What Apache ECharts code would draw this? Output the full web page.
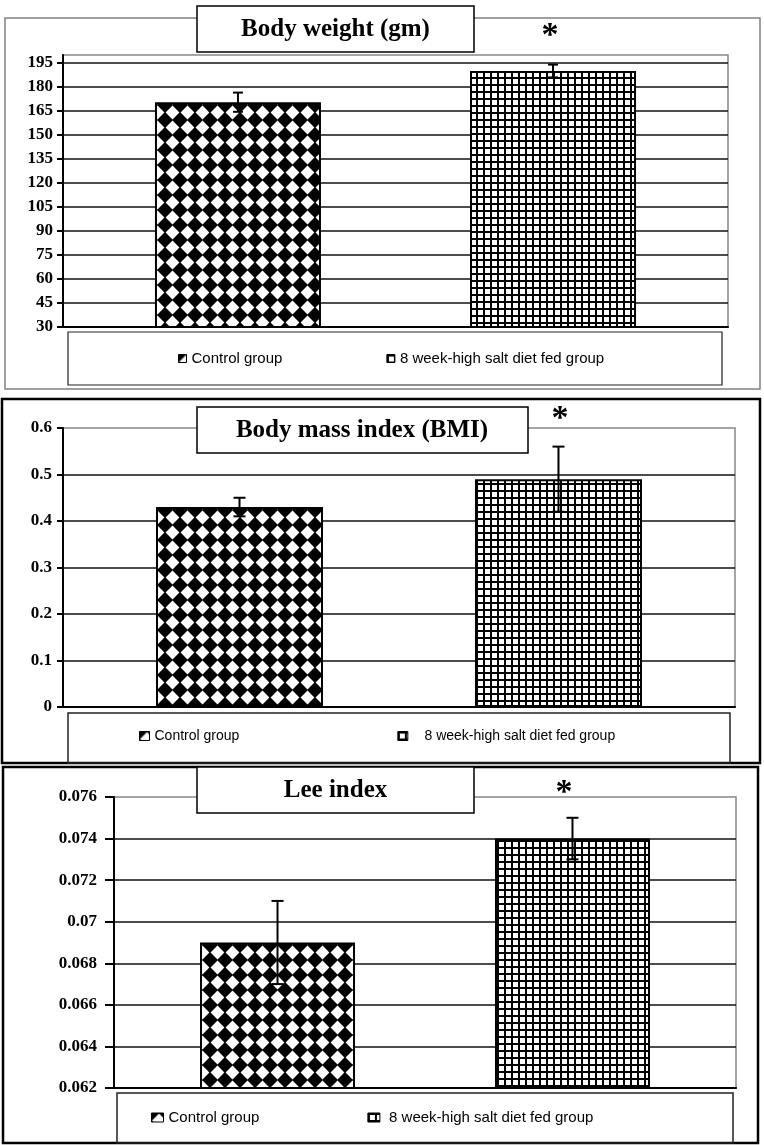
<!DOCTYPE html>
<html>
<head>
<meta charset="utf-8">
<script src="https://cdn.jsdelivr.net/npm/echarts@6/dist/echarts.min.js"></script>
<style>
html, body { margin: 0; padding: 0; background: #fff; }
#main { width: 764px; height: 1145px; }
</style>
</head>
<body>
<div id="main"></div>
<script>
// data
var groups = ['Control group', '8 week-high salt diet fed group'];
var bwMean = [170.5, 190];
var bwErr = [6, 4];
var bwTicks = [30, 45, 60, 75, 90, 105, 120, 135, 150, 165, 180, 195];
var bmiMean = [0.43, 0.49];
var bmiErr = [0.02, 0.07];
var leeMean = [0.069, 0.074];
var leeErr = [0.002, 0.001];

var myChart = echarts.init(document.getElementById('main'));

// fill patterns
function diamondTile() {
    var c = document.createElement('canvas');
    c.width = 15; c.height = 15;
    var g = c.getContext('2d');
    g.fillStyle = '#000';
    g.fillRect(0, 0, 15, 15);
    g.fillStyle = '#fff';
    g.beginPath();
    g.moveTo(7.5, 0.6); g.lineTo(14.4, 7.5); g.lineTo(7.5, 14.4); g.lineTo(0.6, 7.5);
    g.closePath();
    g.fill();
    return c;
}
function gridTile() {
    var c = document.createElement('canvas');
    c.width = 7; c.height = 7;
    var g = c.getContext('2d');
    g.fillStyle = '#fff';
    g.fillRect(0, 0, 7, 7);
    g.fillStyle = '#000';
    g.fillRect(0, 0, 7, 2);
    g.fillRect(0, 0, 2, 7);
    return c;
}
var pats = [
    { image: diamondTile(), repeat: 'repeat' },
    { image: gridTile(), repeat: 'repeat' }
];

function barSeries(i, val, idx, barW, gap) {
    return {
        name: groups[i],
        type: 'bar',
        xAxisIndex: idx,
        yAxisIndex: idx,
        data: [val],
        barWidth: barW,
        barGap: gap,
        z: 2,
        itemStyle: { color: pats[i], borderColor: '#000', borderWidth: 2 }
    };
}

function errSeries(mean, err, idx, barW, gap, cap) {
    return {
        type: 'custom',
        xAxisIndex: idx,
        yAxisIndex: idx,
        z: 5,
        silent: true,
        data: mean.map(function (m, i) { return [0, m - err[i], m + err[i], i]; }),
        renderItem: function (params, api) {
            var lay = api.barLayout({ count: 2, barWidth: barW, barGap: gap });
            var i = api.value(3);
            var lo = api.coord([0, api.value(1)]);
            var hi = api.coord([0, api.value(2)]);
            var x = lo[0] + lay[i].offsetCenter;
            var st = { stroke: '#000', lineWidth: 2 };
            return {
                type: 'group',
                children: [
                    { type: 'line', shape: { x1: x, y1: hi[1], x2: x, y2: lo[1] }, style: st },
                    { type: 'line', shape: { x1: x - cap, y1: hi[1], x2: x + cap, y2: hi[1] }, style: st },
                    { type: 'line', shape: { x1: x - cap, y1: lo[1], x2: x + cap, y2: lo[1] }, style: st }
                ]
            };
        }
    };
}

function xAx(idx) {
    return {
        type: 'category',
        gridIndex: idx,
        data: [''],
        axisLine: { lineStyle: { color: '#000', width: 2 } },
        axisTick: { show: false },
        axisLabel: { show: false }
    };
}

function yAx(idx, min, max, interval, margin, tickLen) {
    return {
        type: 'value',
        gridIndex: idx,
        min: min,
        max: max,
        interval: interval,
        axisLine: { show: true, lineStyle: { color: '#000', width: 2 } },
        axisTick: { show: true, length: tickLen, lineStyle: { color: '#000', width: 2 } },
        axisLabel: {
            margin: margin,
            color: '#000',
            fontFamily: 'Liberation Serif',
            fontWeight: 'bold',
            fontSize: 17
        },
        splitLine: { show: true, showMaxLine: false, lineStyle: { color: '#111', width: 1.5 } }
    };
}

// body weight axis: ticks 30..195, frame top at 200
var y0 = yAx(0, 30, 200, 15, 10, 6);
y0.axisLabel.customValues = bwTicks;
y0.axisTick.customValues = bwTicks;
y0.splitLine.showMaxLine = true;

var labelFont = { fontFamily: 'Liberation Sans', fontSize: 15, color: '#000' };

function box(x, y, w, h, stroke, lw, fill, z) {
    return {
        type: 'rect', z: z || 1, silent: true,
        shape: { x: x, y: y, width: w, height: h },
        style: { fill: fill || 'none', stroke: stroke, lineWidth: lw }
    };
}
function txt(x, y, s, font, z) {
    return {
        type: 'text', x: x, y: y, z: z || 101, silent: true,
        style: {
            text: s, font: font, fill: '#000',
            align: 'center', textAlign: 'center',
            verticalAlign: 'middle', textVerticalAlign: 'middle'
        }
    };
}

var titleFont = 'bold 25px "Liberation Serif"';
var starFont = 'bold 34px "Liberation Serif"';

var option = {
    backgroundColor: '#fff',
    animation: false,
    grid: [
        { left: 63, top: 55, width: 665, height: 272, show: true, borderColor: '#888', borderWidth: 1.5 },
        { left: 63, top: 428, width: 672, height: 279, show: true, borderColor: '#888', borderWidth: 1.5 },
        { left: 114, top: 797, width: 622, height: 291, show: true, borderColor: '#888', borderWidth: 1.5 }
    ],
    xAxis: [xAx(0), xAx(1), xAx(2)],
    yAxis: [y0, yAx(1, 0, 0.6, 0.1, 11, 6), yAx(2, 0.062, 0.076, 0.002, 17, 9)],
    legend: [
        {
            data: groups, left: 178, top: 351, itemWidth: 8, itemHeight: 8, itemGap: 104,
            icon: 'rect', padding: 0, selectedMode: false, textStyle: labelFont,
            itemStyle: { borderWidth: 1 }
        },
        {
            data: groups, left: 139, top: 729, itemWidth: 10, itemHeight: 9, itemGap: 158,
            icon: 'rect', padding: 0, selectedMode: false,
            textStyle: { fontFamily: 'Liberation Sans', fontSize: 14, color: '#000' },
            itemStyle: { borderWidth: 1 },
            formatter: function (n) { return n === groups[1] ? '   ' + n : n; }
        },
        {
            data: groups, left: 151, top: 1110, itemWidth: 12, itemHeight: 9, itemGap: 108,
            icon: 'rect', padding: 0, selectedMode: false, textStyle: labelFont,
            itemStyle: { borderWidth: 1 },
            formatter: function (n) { return n === groups[1] ? ' ' + n : n; }
        }
    ],
    graphic: [
        // panel frames
        box(5, 18, 755, 371, '#808080', 1.5),
        box(2, 399, 758, 364, '#000', 2.5),
        box(3, 767, 755, 376, '#000', 2.5),
        // legend frames
        box(68, 332, 654, 53, '#222', 1.2),
        box(68, 713, 662, 50, '#222', 1.5),
        box(117, 1093, 616, 50, '#222', 1.5),
        // title boxes
        box(197, 6, 277, 46, '#000', 1.5, '#fff', 100),
        box(197, 407, 331, 46, '#000', 1.5, '#fff', 100),
        box(197, 767, 277, 46, '#000', 1.5, '#fff', 100),
        txt(335.5, 30, 'Body weight (gm)', titleFont),
        txt(362, 431, 'Body mass index (BMI)', titleFont),
        txt(335.5, 791, 'Lee index', titleFont),
        // significance marks
        txt(550, 36, '*', starFont),
        txt(560, 419, '*', starFont),
        txt(564, 793, '*', starFont)
    ],
    series: [
        barSeries(0, bwMean[0], 0, 166, '89.8%'),
        barSeries(1, bwMean[1], 0, 166, '89.8%'),
        errSeries(bwMean, bwErr, 0, 166, '89.8%', 5),
        barSeries(0, bmiMean[0], 1, 167, '91%'),
        barSeries(1, bmiMean[1], 1, 167, '91%'),
        errSeries(bmiMean, bmiErr, 1, 167, '91%', 6),
        barSeries(0, leeMean[0], 2, 155, '90.3%'),
        barSeries(1, leeMean[1], 2, 155, '90.3%'),
        errSeries(leeMean, leeErr, 2, 155, '90.3%', 6)
    ]
};

myChart.setOption(option);
</script>
</body>
</html>
